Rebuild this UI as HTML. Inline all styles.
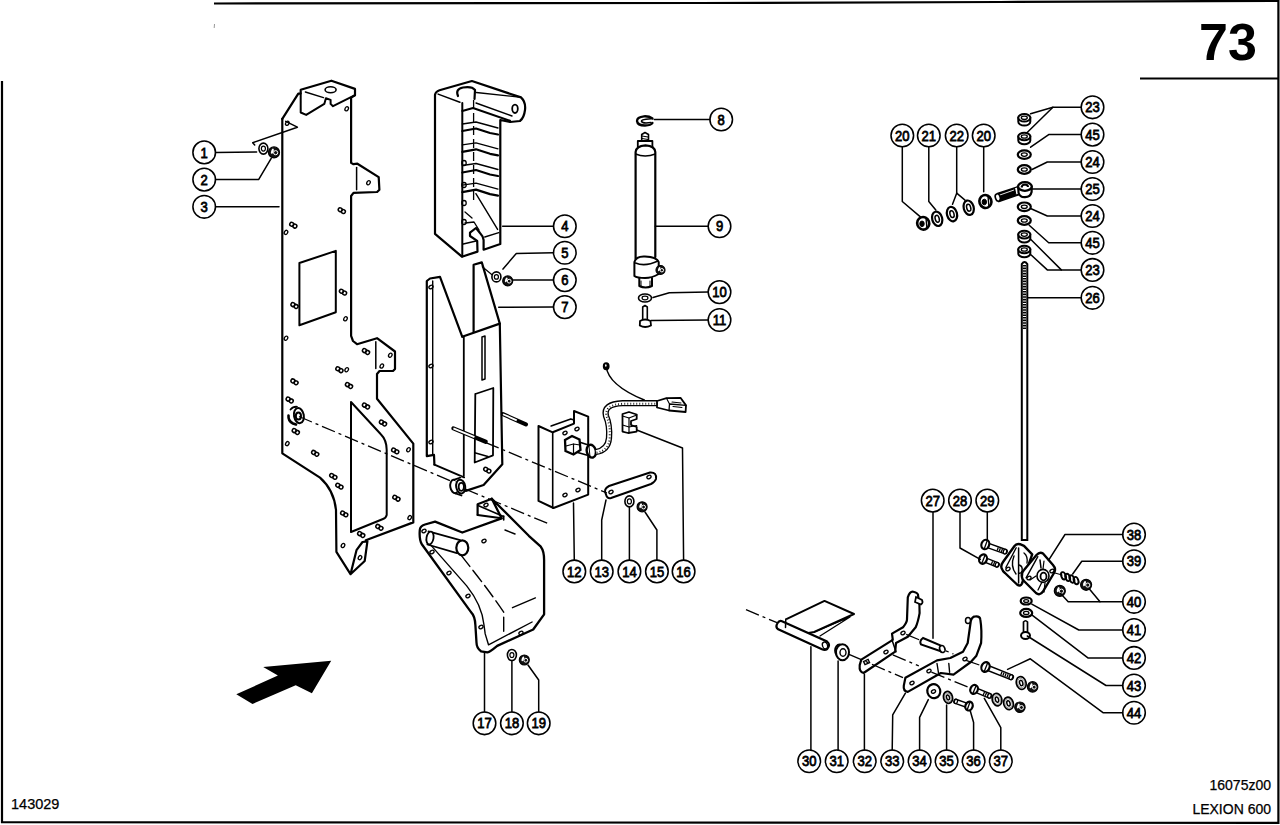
<!DOCTYPE html>
<html><head><meta charset="utf-8"><style>
html,body{margin:0;padding:0;background:#fff;}
body{width:1280px;height:825px;overflow:hidden;position:relative;}
svg{position:absolute;left:0;top:0;}
text{font-family:"Liberation Sans",sans-serif;font-size:15px;fill:#000;}
.c{font-size:14.8px;stroke:#000;stroke-width:0.8px;}
</style></head><body>
<svg width="1280" height="825" viewBox="0 0 1280 825">
<path d="M214 3.5 L700 3 L1000 2 L1278.4 0.8 L1278.4 822.9 L2 822.2 L2 81" fill="none" stroke="#000" stroke-width="2.2"/>
<line x1="214.5" y1="24" x2="214.2" y2="28" stroke="#000" stroke-width="0.8" opacity="0.5"/>
<line x1="1140" y1="78.5" x2="1278" y2="78.5" stroke="#000" stroke-width="2"/>
<text x="1228" y="60" text-anchor="middle" style="font-size:52px;font-weight:bold">73</text>
<text x="11" y="808.5" style="font-size:14.5px;stroke:#000;stroke-width:0.25px">143029</text>
<text x="1271" y="790" text-anchor="end" style="font-size:14px;stroke:#000;stroke-width:0.25px">16075z00</text>
<text x="1271" y="814" text-anchor="end" style="font-size:14px;stroke:#000;stroke-width:0.25px">LEXION 600</text>
<circle cx="204.2" cy="152.4" r="11.3" fill="#fff" stroke="#000" stroke-width="1.55"/>
<text class="c" transform="translate(204.2 157.5) scale(0.88 1)" text-anchor="middle">1</text>
<circle cx="204.2" cy="179.6" r="11.3" fill="#fff" stroke="#000" stroke-width="1.55"/>
<text class="c" transform="translate(204.2 184.7) scale(0.88 1)" text-anchor="middle">2</text>
<circle cx="204.2" cy="206.8" r="11.3" fill="#fff" stroke="#000" stroke-width="1.55"/>
<text class="c" transform="translate(204.2 211.9) scale(0.88 1)" text-anchor="middle">3</text>
<circle cx="564.8" cy="226.2" r="11.3" fill="#fff" stroke="#000" stroke-width="1.55"/>
<text class="c" transform="translate(564.8 231.29999999999998) scale(0.88 1)" text-anchor="middle">4</text>
<circle cx="564.8" cy="252.7" r="11.3" fill="#fff" stroke="#000" stroke-width="1.55"/>
<text class="c" transform="translate(564.8 257.8) scale(0.88 1)" text-anchor="middle">5</text>
<circle cx="564.8" cy="280.1" r="11.3" fill="#fff" stroke="#000" stroke-width="1.55"/>
<text class="c" transform="translate(564.8 285.20000000000005) scale(0.88 1)" text-anchor="middle">6</text>
<circle cx="564.8" cy="307.1" r="11.3" fill="#fff" stroke="#000" stroke-width="1.55"/>
<text class="c" transform="translate(564.8 312.20000000000005) scale(0.88 1)" text-anchor="middle">7</text>
<circle cx="721.2" cy="119.5" r="11.3" fill="#fff" stroke="#000" stroke-width="1.55"/>
<text class="c" transform="translate(721.2 124.6) scale(0.88 1)" text-anchor="middle">8</text>
<circle cx="719.5" cy="226.2" r="11.3" fill="#fff" stroke="#000" stroke-width="1.55"/>
<text class="c" transform="translate(719.5 231.29999999999998) scale(0.88 1)" text-anchor="middle">9</text>
<circle cx="719.5" cy="292.1" r="11.3" fill="#fff" stroke="#000" stroke-width="1.55"/>
<text class="c" transform="translate(719.5 297.20000000000005) scale(0.88 1)" text-anchor="middle">10</text>
<circle cx="719.5" cy="320" r="11.3" fill="#fff" stroke="#000" stroke-width="1.55"/>
<text class="c" transform="translate(719.5 325.1) scale(0.88 1)" text-anchor="middle">11</text>
<circle cx="574.3" cy="571.4" r="11.3" fill="#fff" stroke="#000" stroke-width="1.55"/>
<text class="c" transform="translate(574.3 576.5) scale(0.88 1)" text-anchor="middle">12</text>
<circle cx="601.7" cy="571.4" r="11.3" fill="#fff" stroke="#000" stroke-width="1.55"/>
<text class="c" transform="translate(601.7 576.5) scale(0.88 1)" text-anchor="middle">13</text>
<circle cx="629.4" cy="571.4" r="11.3" fill="#fff" stroke="#000" stroke-width="1.55"/>
<text class="c" transform="translate(629.4 576.5) scale(0.88 1)" text-anchor="middle">14</text>
<circle cx="656.9" cy="571.4" r="11.3" fill="#fff" stroke="#000" stroke-width="1.55"/>
<text class="c" transform="translate(656.9 576.5) scale(0.88 1)" text-anchor="middle">15</text>
<circle cx="683.6" cy="571.4" r="11.3" fill="#fff" stroke="#000" stroke-width="1.55"/>
<text class="c" transform="translate(683.6 576.5) scale(0.88 1)" text-anchor="middle">16</text>
<circle cx="484.5" cy="723.3" r="11.3" fill="#fff" stroke="#000" stroke-width="1.55"/>
<text class="c" transform="translate(484.5 728.4) scale(0.88 1)" text-anchor="middle">17</text>
<circle cx="511.9" cy="723.3" r="11.3" fill="#fff" stroke="#000" stroke-width="1.55"/>
<text class="c" transform="translate(511.9 728.4) scale(0.88 1)" text-anchor="middle">18</text>
<circle cx="538.7" cy="723.3" r="11.3" fill="#fff" stroke="#000" stroke-width="1.55"/>
<text class="c" transform="translate(538.7 728.4) scale(0.88 1)" text-anchor="middle">19</text>
<circle cx="902.3" cy="135.5" r="11.3" fill="#fff" stroke="#000" stroke-width="1.55"/>
<text class="c" transform="translate(902.3 140.6) scale(0.88 1)" text-anchor="middle">20</text>
<circle cx="928.8" cy="135.5" r="11.3" fill="#fff" stroke="#000" stroke-width="1.55"/>
<text class="c" transform="translate(928.8 140.6) scale(0.88 1)" text-anchor="middle">21</text>
<circle cx="956.7" cy="135.5" r="11.3" fill="#fff" stroke="#000" stroke-width="1.55"/>
<text class="c" transform="translate(956.7 140.6) scale(0.88 1)" text-anchor="middle">22</text>
<circle cx="983.7" cy="135.5" r="11.3" fill="#fff" stroke="#000" stroke-width="1.55"/>
<text class="c" transform="translate(983.7 140.6) scale(0.88 1)" text-anchor="middle">20</text>
<circle cx="1092.5" cy="107.3" r="11.3" fill="#fff" stroke="#000" stroke-width="1.55"/>
<text class="c" transform="translate(1092.5 112.39999999999999) scale(0.88 1)" text-anchor="middle">23</text>
<circle cx="1092.5" cy="134.6" r="11.3" fill="#fff" stroke="#000" stroke-width="1.55"/>
<text class="c" transform="translate(1092.5 139.7) scale(0.88 1)" text-anchor="middle">45</text>
<circle cx="1092.5" cy="162" r="11.3" fill="#fff" stroke="#000" stroke-width="1.55"/>
<text class="c" transform="translate(1092.5 167.1) scale(0.88 1)" text-anchor="middle">24</text>
<circle cx="1092.5" cy="189" r="11.3" fill="#fff" stroke="#000" stroke-width="1.55"/>
<text class="c" transform="translate(1092.5 194.1) scale(0.88 1)" text-anchor="middle">25</text>
<circle cx="1092.5" cy="216" r="11.3" fill="#fff" stroke="#000" stroke-width="1.55"/>
<text class="c" transform="translate(1092.5 221.1) scale(0.88 1)" text-anchor="middle">24</text>
<circle cx="1092.5" cy="242.8" r="11.3" fill="#fff" stroke="#000" stroke-width="1.55"/>
<text class="c" transform="translate(1092.5 247.9) scale(0.88 1)" text-anchor="middle">45</text>
<circle cx="1092.5" cy="269.9" r="11.3" fill="#fff" stroke="#000" stroke-width="1.55"/>
<text class="c" transform="translate(1092.5 275.0) scale(0.88 1)" text-anchor="middle">23</text>
<circle cx="1092.5" cy="297.8" r="11.3" fill="#fff" stroke="#000" stroke-width="1.55"/>
<text class="c" transform="translate(1092.5 302.90000000000003) scale(0.88 1)" text-anchor="middle">26</text>
<circle cx="932.7" cy="500.6" r="11.3" fill="#fff" stroke="#000" stroke-width="1.55"/>
<text class="c" transform="translate(932.7 505.70000000000005) scale(0.88 1)" text-anchor="middle">27</text>
<circle cx="960" cy="500.6" r="11.3" fill="#fff" stroke="#000" stroke-width="1.55"/>
<text class="c" transform="translate(960 505.70000000000005) scale(0.88 1)" text-anchor="middle">28</text>
<circle cx="987.3" cy="500.6" r="11.3" fill="#fff" stroke="#000" stroke-width="1.55"/>
<text class="c" transform="translate(987.3 505.70000000000005) scale(0.88 1)" text-anchor="middle">29</text>
<circle cx="1134" cy="534.5" r="11.3" fill="#fff" stroke="#000" stroke-width="1.55"/>
<text class="c" transform="translate(1134 539.6) scale(0.88 1)" text-anchor="middle">38</text>
<circle cx="1134" cy="561.2" r="11.3" fill="#fff" stroke="#000" stroke-width="1.55"/>
<text class="c" transform="translate(1134 566.3000000000001) scale(0.88 1)" text-anchor="middle">39</text>
<circle cx="1134" cy="601.8" r="11.3" fill="#fff" stroke="#000" stroke-width="1.55"/>
<text class="c" transform="translate(1134 606.9) scale(0.88 1)" text-anchor="middle">40</text>
<circle cx="1134" cy="630" r="11.3" fill="#fff" stroke="#000" stroke-width="1.55"/>
<text class="c" transform="translate(1134 635.1) scale(0.88 1)" text-anchor="middle">41</text>
<circle cx="1134" cy="657.9" r="11.3" fill="#fff" stroke="#000" stroke-width="1.55"/>
<text class="c" transform="translate(1134 663.0) scale(0.88 1)" text-anchor="middle">42</text>
<circle cx="1134" cy="685.5" r="11.3" fill="#fff" stroke="#000" stroke-width="1.55"/>
<text class="c" transform="translate(1134 690.6) scale(0.88 1)" text-anchor="middle">43</text>
<circle cx="1134" cy="712.7" r="11.3" fill="#fff" stroke="#000" stroke-width="1.55"/>
<text class="c" transform="translate(1134 717.8000000000001) scale(0.88 1)" text-anchor="middle">44</text>
<circle cx="809.2" cy="761.2" r="11.3" fill="#fff" stroke="#000" stroke-width="1.55"/>
<text class="c" transform="translate(809.2 766.3000000000001) scale(0.88 1)" text-anchor="middle">30</text>
<circle cx="836.7" cy="761.2" r="11.3" fill="#fff" stroke="#000" stroke-width="1.55"/>
<text class="c" transform="translate(836.7 766.3000000000001) scale(0.88 1)" text-anchor="middle">31</text>
<circle cx="864.7" cy="761.2" r="11.3" fill="#fff" stroke="#000" stroke-width="1.55"/>
<text class="c" transform="translate(864.7 766.3000000000001) scale(0.88 1)" text-anchor="middle">32</text>
<circle cx="892.2" cy="761.2" r="11.3" fill="#fff" stroke="#000" stroke-width="1.55"/>
<text class="c" transform="translate(892.2 766.3000000000001) scale(0.88 1)" text-anchor="middle">33</text>
<circle cx="919.6" cy="761.2" r="11.3" fill="#fff" stroke="#000" stroke-width="1.55"/>
<text class="c" transform="translate(919.6 766.3000000000001) scale(0.88 1)" text-anchor="middle">34</text>
<circle cx="946.6" cy="761.2" r="11.3" fill="#fff" stroke="#000" stroke-width="1.55"/>
<text class="c" transform="translate(946.6 766.3000000000001) scale(0.88 1)" text-anchor="middle">35</text>
<circle cx="973.6" cy="761.2" r="11.3" fill="#fff" stroke="#000" stroke-width="1.55"/>
<text class="c" transform="translate(973.6 766.3000000000001) scale(0.88 1)" text-anchor="middle">36</text>
<circle cx="1000.8" cy="761.2" r="11.3" fill="#fff" stroke="#000" stroke-width="1.55"/>
<text class="c" transform="translate(1000.8 766.3000000000001) scale(0.88 1)" text-anchor="middle">37</text>
<path d="M282.3 118.8 L298.3 93.6 L300.7 93.6 L300.7 89.7 L331.4 80.7 L355.0 88.9 L355.0 95.2 L351.1 97.6 L351.1 162.9 L353.5 164.2 L357.4 163.7 L378.7 177.1 L379.4 189.7 L377.1 192.0 L353.5 192.8 L351.1 196.0 L351.1 335.8 L353.0 341.0 L357.0 344.2 L377.0 338.2 L395.0 351.5 L395.0 369.0 L393.0 371.0 L379.5 371.0 L377.0 374.0 L377.0 398.8 L413.3 443.6 L413.3 522.4 L365.8 540.3" fill="none" stroke="#000" stroke-width="2.2" stroke-linejoin="round" stroke-linecap="round" />
<path d="M282.3 118.8 L282.3 453.3 L320 477.6 Q334 490 336 510 L336.4 551.8 L350.5 574.2 L364.7 561 L367.4 541.4 L362.5 542 L356.5 550.2 L350.5 574.2" fill="none" stroke="#000" stroke-width="2.2" stroke-linejoin="round" stroke-linecap="round" />
<path d="M355.0 95.2 L333.0 106.2 L330.6 103.9 L330.6 99.9 L325.9 98.3 L324.3 103.9 L306.2 114.9 L300.7 112.5 L300.7 93.6" fill="none" stroke="#000" stroke-width="2" stroke-linejoin="round" stroke-linecap="round" />
<path d="M305.4 92.0 L323.5 97.6" fill="none" stroke="#000" stroke-width="1.5" stroke-linejoin="round" stroke-linecap="round" />
<ellipse cx="330.6" cy="89.7" rx="5.5" ry="3" fill="none" stroke="#000" stroke-width="1.6" transform="rotate(0 330.6 89.7)"/>
<path d="M356.6 167.6 L356.6 189.7" fill="none" stroke="#000" stroke-width="1.5" stroke-linejoin="round" stroke-linecap="round" />
<path d="M375.8 341.8 L375.8 368.5" fill="none" stroke="#000" stroke-width="1.5" stroke-linejoin="round" stroke-linecap="round" />
<path d="M299.4 263.0 L335.8 250.9 L335.8 312.2 L299.4 325.3 Z" fill="none" stroke="#000" stroke-width="2" stroke-linejoin="round" stroke-linecap="round" />
<path d="M351 402 L380.6 434 Q386.7 440 386.7 450 L386.7 515 Q386 518 383 519 L351 532 Z" fill="none" stroke="#000" stroke-width="2" stroke-linejoin="round" stroke-linecap="round" />
<path d="M285.7 121.4 L297.4 127.2 L252.7 142.7 L254.7 145.0" fill="none" stroke="#000" stroke-width="1.5" stroke-linejoin="round" stroke-linecap="round" />
<path d="M290.5 409.5 Q293 406.5 297 406.8" fill="none" stroke="#000" stroke-width="1.8" stroke-linejoin="round" stroke-linecap="round" />
<path d="M288.5 415.5 Q288 421 293 423.5 L296 424.5" fill="none" stroke="#000" stroke-width="2.6" stroke-linejoin="round" stroke-linecap="round" />
<ellipse cx="298.9" cy="415.6" rx="4.9" ry="7.6" fill="#fff" stroke="#000" stroke-width="2" transform="rotate(-10 298.9 415.6)"/>
<ellipse cx="298.4" cy="416" rx="2.6" ry="3.6" fill="none" stroke="#000" stroke-width="2" transform="rotate(0 298.4 416)"/>
<ellipse cx="287.3" cy="123.3" rx="2.2" ry="1.6" fill="none" stroke="#000" stroke-width="1.3" transform="rotate(-60 287.3 123.3)"/>
<ellipse cx="346.7" cy="108.8" rx="2.2" ry="1.6" fill="none" stroke="#000" stroke-width="1.3" transform="rotate(-60 346.7 108.8)"/>
<ellipse cx="368.5" cy="182.7" rx="2.2" ry="1.6" fill="none" stroke="#000" stroke-width="1.3" transform="rotate(-60 368.5 182.7)"/>
<ellipse cx="286" cy="232.4" rx="2.2" ry="1.6" fill="none" stroke="#000" stroke-width="1.3" transform="rotate(-60 286 232.4)"/>
<ellipse cx="345.5" cy="318.8" rx="2.2" ry="1.6" fill="none" stroke="#000" stroke-width="1.3" transform="rotate(-60 345.5 318.8)"/>
<ellipse cx="286" cy="338.2" rx="2.2" ry="1.6" fill="none" stroke="#000" stroke-width="1.3" transform="rotate(-60 286 338.2)"/>
<ellipse cx="390.3" cy="355.2" rx="2.2" ry="1.6" fill="none" stroke="#000" stroke-width="1.3" transform="rotate(-60 390.3 355.2)"/>
<ellipse cx="381.8" cy="366" rx="2.2" ry="1.6" fill="none" stroke="#000" stroke-width="1.3" transform="rotate(-60 381.8 366)"/>
<ellipse cx="346.7" cy="369.7" rx="2.2" ry="1.6" fill="none" stroke="#000" stroke-width="1.3" transform="rotate(-60 346.7 369.7)"/>
<ellipse cx="287.3" cy="443.6" rx="2.2" ry="1.6" fill="none" stroke="#000" stroke-width="1.3" transform="rotate(-60 287.3 443.6)"/>
<ellipse cx="408.5" cy="449.7" rx="2.2" ry="1.6" fill="none" stroke="#000" stroke-width="1.3" transform="rotate(-60 408.5 449.7)"/>
<ellipse cx="409.7" cy="517.6" rx="2.2" ry="1.6" fill="none" stroke="#000" stroke-width="1.3" transform="rotate(-60 409.7 517.6)"/>
<ellipse cx="343" cy="545.5" rx="2.2" ry="1.6" fill="none" stroke="#000" stroke-width="1.3" transform="rotate(-60 343 545.5)"/>
<ellipse cx="360" cy="557.6" rx="2.2" ry="1.6" fill="none" stroke="#000" stroke-width="1.3" transform="rotate(-60 360 557.6)"/>
<g transform="rotate(30 341.8 210.6)"><ellipse cx="340.0" cy="210.6" rx="2" ry="1.9" fill="none" stroke="#000" stroke-width="1.5"/><ellipse cx="343.6" cy="210.6" rx="2" ry="1.9" fill="none" stroke="#000" stroke-width="1.5"/></g>
<g transform="rotate(30 293.3 225.2)"><ellipse cx="291.5" cy="225.2" rx="2" ry="1.9" fill="none" stroke="#000" stroke-width="1.5"/><ellipse cx="295.1" cy="225.2" rx="2" ry="1.9" fill="none" stroke="#000" stroke-width="1.5"/></g>
<g transform="rotate(30 294.5 305.5)"><ellipse cx="292.7" cy="305.5" rx="2" ry="1.9" fill="none" stroke="#000" stroke-width="1.5"/><ellipse cx="296.3" cy="305.5" rx="2" ry="1.9" fill="none" stroke="#000" stroke-width="1.5"/></g>
<g transform="rotate(30 343 292.1)"><ellipse cx="341.2" cy="292.1" rx="2" ry="1.9" fill="none" stroke="#000" stroke-width="1.5"/><ellipse cx="344.8" cy="292.1" rx="2" ry="1.9" fill="none" stroke="#000" stroke-width="1.5"/></g>
<g transform="rotate(30 366 351.5)"><ellipse cx="364.2" cy="351.5" rx="2" ry="1.9" fill="none" stroke="#000" stroke-width="1.5"/><ellipse cx="367.8" cy="351.5" rx="2" ry="1.9" fill="none" stroke="#000" stroke-width="1.5"/></g>
<g transform="rotate(30 339.4 369.7)"><ellipse cx="337.59999999999997" cy="369.7" rx="2" ry="1.9" fill="none" stroke="#000" stroke-width="1.5"/><ellipse cx="341.2" cy="369.7" rx="2" ry="1.9" fill="none" stroke="#000" stroke-width="1.5"/></g>
<g transform="rotate(30 294.5 381.8)"><ellipse cx="292.7" cy="381.8" rx="2" ry="1.9" fill="none" stroke="#000" stroke-width="1.5"/><ellipse cx="296.3" cy="381.8" rx="2" ry="1.9" fill="none" stroke="#000" stroke-width="1.5"/></g>
<g transform="rotate(30 349 385.5)"><ellipse cx="347.2" cy="385.5" rx="2" ry="1.9" fill="none" stroke="#000" stroke-width="1.5"/><ellipse cx="350.8" cy="385.5" rx="2" ry="1.9" fill="none" stroke="#000" stroke-width="1.5"/></g>
<g transform="rotate(30 289.7 400)"><ellipse cx="287.9" cy="400" rx="2" ry="1.9" fill="none" stroke="#000" stroke-width="1.5"/><ellipse cx="291.5" cy="400" rx="2" ry="1.9" fill="none" stroke="#000" stroke-width="1.5"/></g>
<g transform="rotate(30 366 406)"><ellipse cx="364.2" cy="406" rx="2" ry="1.9" fill="none" stroke="#000" stroke-width="1.5"/><ellipse cx="367.8" cy="406" rx="2" ry="1.9" fill="none" stroke="#000" stroke-width="1.5"/></g>
<g transform="rotate(30 383 423)"><ellipse cx="381.2" cy="423" rx="2" ry="1.9" fill="none" stroke="#000" stroke-width="1.5"/><ellipse cx="384.8" cy="423" rx="2" ry="1.9" fill="none" stroke="#000" stroke-width="1.5"/></g>
<g transform="rotate(30 295.8 431.5)"><ellipse cx="294.0" cy="431.5" rx="2" ry="1.9" fill="none" stroke="#000" stroke-width="1.5"/><ellipse cx="297.6" cy="431.5" rx="2" ry="1.9" fill="none" stroke="#000" stroke-width="1.5"/></g>
<g transform="rotate(30 315.2 453.3)"><ellipse cx="313.4" cy="453.3" rx="2" ry="1.9" fill="none" stroke="#000" stroke-width="1.5"/><ellipse cx="317.0" cy="453.3" rx="2" ry="1.9" fill="none" stroke="#000" stroke-width="1.5"/></g>
<g transform="rotate(30 395.2 450.9)"><ellipse cx="393.4" cy="450.9" rx="2" ry="1.9" fill="none" stroke="#000" stroke-width="1.5"/><ellipse cx="397.0" cy="450.9" rx="2" ry="1.9" fill="none" stroke="#000" stroke-width="1.5"/></g>
<g transform="rotate(30 333.3 476.4)"><ellipse cx="331.5" cy="476.4" rx="2" ry="1.9" fill="none" stroke="#000" stroke-width="1.5"/><ellipse cx="335.1" cy="476.4" rx="2" ry="1.9" fill="none" stroke="#000" stroke-width="1.5"/></g>
<g transform="rotate(30 339.4 486.1)"><ellipse cx="337.59999999999997" cy="486.1" rx="2" ry="1.9" fill="none" stroke="#000" stroke-width="1.5"/><ellipse cx="341.2" cy="486.1" rx="2" ry="1.9" fill="none" stroke="#000" stroke-width="1.5"/></g>
<g transform="rotate(30 396.4 498.2)"><ellipse cx="394.59999999999997" cy="498.2" rx="2" ry="1.9" fill="none" stroke="#000" stroke-width="1.5"/><ellipse cx="398.2" cy="498.2" rx="2" ry="1.9" fill="none" stroke="#000" stroke-width="1.5"/></g>
<g transform="rotate(30 344.2 513.9)"><ellipse cx="342.4" cy="513.9" rx="2" ry="1.9" fill="none" stroke="#000" stroke-width="1.5"/><ellipse cx="346.0" cy="513.9" rx="2" ry="1.9" fill="none" stroke="#000" stroke-width="1.5"/></g>
<g transform="rotate(30 379.4 527.3)"><ellipse cx="377.59999999999997" cy="527.3" rx="2" ry="1.9" fill="none" stroke="#000" stroke-width="1.5"/><ellipse cx="381.2" cy="527.3" rx="2" ry="1.9" fill="none" stroke="#000" stroke-width="1.5"/></g>
<g transform="rotate(30 361.2 534.5)"><ellipse cx="359.4" cy="534.5" rx="2" ry="1.9" fill="none" stroke="#000" stroke-width="1.5"/><ellipse cx="363.0" cy="534.5" rx="2" ry="1.9" fill="none" stroke="#000" stroke-width="1.5"/></g>
<path d="M435 233.8 L435 95 Q435.5 91.5 439.5 90.2 L471.9 81 L521 97.4 Q526 102 525 110 Q524 118 519.9 121 L510.1 122 L500.3 120 L500.3 244 L483.6 249.7 L483.6 240 Q483 236 480 233 L476 228 L470 232.6 L470 236 L477.2 240.8 L477.5 251.6 L461.9 256.7 L435 233.8" fill="none" stroke="#000" stroke-width="2.2" stroke-linejoin="round" stroke-linecap="round" />
<path d="M462.3 103.0 L462.3 256.5" fill="none" stroke="#000" stroke-width="2" stroke-linejoin="round" stroke-linecap="round" />
<path d="M438.1 94.1 L459.9 102.3" fill="none" stroke="#000" stroke-width="1.5" stroke-linejoin="round" stroke-linecap="round" />
<path d="M458 96 Q455 89 463 87.5 Q472 86 475 90 L474.5 99" fill="none" stroke="#000" stroke-width="2.2" stroke-linejoin="round" stroke-linecap="round" />
<path d="M476.3 92.5 L519.0 97.0" fill="none" stroke="#000" stroke-width="1.3" stroke-linejoin="round" stroke-linecap="round" />
<path d="M476.0 103.0 L512.0 116.0" fill="none" stroke="#000" stroke-width="1.4" stroke-linejoin="round" stroke-linecap="round" />
<path d="M462.3 111.0 L473.0 108.0 L510.0 120.8" fill="none" stroke="#000" stroke-width="2" stroke-linejoin="round" stroke-linecap="round" />
<ellipse cx="515" cy="108.8" rx="2.8" ry="4.2" fill="none" stroke="#000" stroke-width="1.8" transform="rotate(0 515 108.8)"/>
<line x1="473.6" y1="100" x2="473.6" y2="200" stroke="#000" stroke-width="1.3" stroke-dasharray="9 4"/>
<path d="M462.3 124.0 L476.0 122.0 L498.0 128.0" fill="none" stroke="#000" stroke-width="1.3" stroke-linejoin="round" stroke-linecap="round" />
<path d="M462.3 131.0 L476.0 128.5 L490.0 133.0 L498.0 134.5" fill="none" stroke="#000" stroke-width="2.2" stroke-linejoin="round" stroke-linecap="round" />
<path d="M462.3 144.8 L476.0 142.8 L498.0 148.8" fill="none" stroke="#000" stroke-width="1.3" stroke-linejoin="round" stroke-linecap="round" />
<path d="M462.3 151.8 L476.0 149.3 L490.0 153.8 L498.0 155.3" fill="none" stroke="#000" stroke-width="2.2" stroke-linejoin="round" stroke-linecap="round" />
<path d="M462.3 165.5 L476.0 163.5 L498.0 169.5" fill="none" stroke="#000" stroke-width="1.3" stroke-linejoin="round" stroke-linecap="round" />
<path d="M462.3 172.5 L476.0 170.0 L490.0 174.5 L498.0 176.0" fill="none" stroke="#000" stroke-width="2.2" stroke-linejoin="round" stroke-linecap="round" />
<path d="M462.3 185.1 L476.0 183.1 L498.0 189.1" fill="none" stroke="#000" stroke-width="1.3" stroke-linejoin="round" stroke-linecap="round" />
<path d="M462.3 192.1 L476.0 189.6 L490.0 194.1 L498.0 195.6" fill="none" stroke="#000" stroke-width="2.2" stroke-linejoin="round" stroke-linecap="round" />
<path d="M475.9 193.7 L497.6 229.4" fill="none" stroke="#000" stroke-width="1.4" stroke-linejoin="round" stroke-linecap="round" />
<path d="M463.2 244.0 L477.2 240.8" fill="none" stroke="#000" stroke-width="1.4" stroke-linejoin="round" stroke-linecap="round" />
<path d="M484.8 237.0 L498.8 232.6" fill="none" stroke="#000" stroke-width="1.4" stroke-linejoin="round" stroke-linecap="round" />
<path d="M465.0 212.0 L472.0 218.0" fill="none" stroke="#000" stroke-width="1.3" stroke-linejoin="round" stroke-linecap="round" />
<path d="M465.0 223.0 L474.0 222.0 L479.0 230.0" fill="none" stroke="#000" stroke-width="1.4" stroke-linejoin="round" stroke-linecap="round" />
<ellipse cx="464" cy="163" rx="2.2" ry="2.5" fill="none" stroke="#000" stroke-width="1.3" transform="rotate(0 464 163)"/>
<ellipse cx="464" cy="185" rx="2.2" ry="2.5" fill="none" stroke="#000" stroke-width="1.3" transform="rotate(0 464 185)"/>
<ellipse cx="464" cy="203" rx="2.2" ry="2.5" fill="none" stroke="#000" stroke-width="1.3" transform="rotate(0 464 203)"/>
<ellipse cx="464" cy="222" rx="2.2" ry="2.5" fill="none" stroke="#000" stroke-width="1.3" transform="rotate(0 464 222)"/>
<path d="M434.4 464.6 L434.0 454.8 L426.8 456.1 L426.8 281.0 L430.0 278.5 L440.0 276.8 L462.2 336.7" fill="none" stroke="#000" stroke-width="2.2" stroke-linejoin="round" stroke-linecap="round" />
<path d="M432.7 281.0 L432.7 455.0" fill="none" stroke="#000" stroke-width="1.4" stroke-linejoin="round" stroke-linecap="round" />
<path d="M434.4 464.6 L464.1 477.3" fill="none" stroke="#000" stroke-width="2" stroke-linejoin="round" stroke-linecap="round" />
<path d="M462.2 336.7 L499.8 323.6" fill="none" stroke="#000" stroke-width="2.2" stroke-linejoin="round" stroke-linecap="round" />
<path d="M463.8 336.7 L463.8 475.8" fill="none" stroke="#000" stroke-width="1.8" stroke-linejoin="round" stroke-linecap="round" />
<path d="M473.6 331.8 L473.6 264.7 L481.8 262.4 L499.8 323.6 L502.3 464.2 L483.6 485.0 L465.8 490.9" fill="none" stroke="#000" stroke-width="2.2" stroke-linejoin="round" stroke-linecap="round" />
<path d="M482.0 337.0 L485.0 336.0 L485.0 379.0 L482.0 380.0 L482.0 337.0" fill="none" stroke="#000" stroke-width="1.5" stroke-linejoin="round" stroke-linecap="round" />
<path d="M475.3 394.0 L493.3 388.0 L493.0 455.3 L474.7 462.5 L475.3 394.0" fill="none" stroke="#000" stroke-width="1.8" stroke-linejoin="round" stroke-linecap="round" />
<path d="M474.7 452.7 L487.9 456.5" fill="none" stroke="#000" stroke-width="1.5" stroke-linejoin="round" stroke-linecap="round" />
<line x1="453.4" y1="428.4" x2="485.7" y2="441.8" stroke="#000" stroke-width="4.2" stroke-linecap="round"/>
<line x1="453.4" y1="428.4" x2="474.395" y2="437.11" stroke="#fff" stroke-width="1.8000000000000003"/>
<line x1="503" y1="414.2" x2="525.9" y2="424.4" stroke="#000" stroke-width="4.2" stroke-linecap="round"/>
<line x1="503" y1="414.2" x2="516.74" y2="420.32" stroke="#fff" stroke-width="1.8000000000000003"/>
<path d="M455 478.5 L461 476.5 L465 496 L458.5 497.5 Z" fill="#fff" stroke="none"/>
<ellipse cx="454.5" cy="486.5" rx="4.2" ry="6.8" fill="#fff" stroke="#000" stroke-width="1.9" transform="rotate(-10 454.5 486.5)"/>
<path d="M455 478.5 L461 476.5 L465 496 L458.5 497.5 Z" fill="#fff" stroke="none"/>
<path d="M454.5 479.7 L460.5 477.5" fill="none" stroke="#000" stroke-width="1.8" stroke-linejoin="round" stroke-linecap="round" />
<path d="M455.5 493.3 L461.5 495.5" fill="none" stroke="#000" stroke-width="1.8" stroke-linejoin="round" stroke-linecap="round" />
<ellipse cx="460.7" cy="486.6" rx="4.5" ry="7" fill="#fff" stroke="#000" stroke-width="2" transform="rotate(-10 460.7 486.6)"/>
<ellipse cx="461.3" cy="486.8" rx="2.6" ry="4" fill="none" stroke="#000" stroke-width="1.8" transform="rotate(0 461.3 486.8)"/>
<ellipse cx="431" cy="287" rx="2.2" ry="1.6" fill="none" stroke="#000" stroke-width="1.3" transform="rotate(-30 431 287)"/>
<ellipse cx="431" cy="366" rx="2.2" ry="1.6" fill="none" stroke="#000" stroke-width="1.3" transform="rotate(-30 431 366)"/>
<ellipse cx="431" cy="442" rx="2.2" ry="1.6" fill="none" stroke="#000" stroke-width="1.3" transform="rotate(-30 431 442)"/>
<g transform="rotate(30 487.3 470.1)"><ellipse cx="485.5" cy="470.1" rx="2" ry="1.9" fill="none" stroke="#000" stroke-width="1.5"/><ellipse cx="489.1" cy="470.1" rx="2" ry="1.9" fill="none" stroke="#000" stroke-width="1.5"/></g>
<path d="M215.5 152.4 L256.6 151.9" fill="none" stroke="#000" stroke-width="1.5" stroke-linejoin="round" stroke-linecap="round" />
<path d="M215.5 179.6 L258.6 179.6 L271.2 158.3" fill="none" stroke="#000" stroke-width="1.5" stroke-linejoin="round" stroke-linecap="round" />
<path d="M215.5 206.8 L279.0 206.8" fill="none" stroke="#000" stroke-width="1.5" stroke-linejoin="round" stroke-linecap="round" />
<ellipse cx="263.4" cy="148.6" rx="4.5" ry="5.5" fill="#fff" stroke="#000" stroke-width="1.6" transform="rotate(0 263.4 148.6)"/>
<ellipse cx="263.4" cy="148.6" rx="2.025" ry="2.475" fill="none" stroke="#000" stroke-width="1.2" transform="rotate(0 263.4 148.6)"/>
<circle cx="274" cy="152.4" r="5.5" fill="#111" stroke="#000" stroke-width="1.2"/>
<ellipse cx="272.075" cy="151.85" rx="1.21" ry="2.75" fill="#fff" transform="rotate(20 274 152.4)"/>
<circle cx="275.65" cy="152.675" r="2.09" fill="none" stroke="#fff" stroke-width="1"/>
<path d="M502.6 226.2 L553.5 226.2" fill="none" stroke="#000" stroke-width="1.5" stroke-linejoin="round" stroke-linecap="round" />
<path d="M503.0 269.1 L516.3 253.4 L553.5 252.7" fill="none" stroke="#000" stroke-width="1.5" stroke-linejoin="round" stroke-linecap="round" />
<path d="M511.6 280.1 L553.5 280.1" fill="none" stroke="#000" stroke-width="1.5" stroke-linejoin="round" stroke-linecap="round" />
<path d="M498.7 307.3 L553.5 307.1" fill="none" stroke="#000" stroke-width="1.5" stroke-linejoin="round" stroke-linecap="round" />
<path d="M482.3 266.8 L491.7 274.5" fill="none" stroke="#000" stroke-width="1.2" stroke-linejoin="round" stroke-linecap="round" />
<ellipse cx="496.4" cy="276.9" rx="4.5" ry="5" fill="#fff" stroke="#000" stroke-width="1.6" transform="rotate(0 496.4 276.9)"/>
<ellipse cx="496.4" cy="276.9" rx="2.025" ry="2.25" fill="none" stroke="#000" stroke-width="1.2" transform="rotate(0 496.4 276.9)"/>
<circle cx="507.7" cy="280.9" r="5" fill="#111" stroke="#000" stroke-width="1.2"/>
<ellipse cx="505.95" cy="280.4" rx="1.1" ry="2.5" fill="#fff" transform="rotate(20 507.7 280.9)"/>
<circle cx="509.2" cy="281.15" r="1.9" fill="none" stroke="#fff" stroke-width="1"/>
<path d="M652.5 118.5 Q649 116 644 116.3 Q637 117 637 121 Q637.5 125.5 645 125.5 Q651 125.5 652.5 123" fill="none" stroke="#000" stroke-width="2.3" stroke-linejoin="round" stroke-linecap="round" />
<path d="M651 118.8 L646 119.3 Q641.5 119.8 641.5 121.3 Q642 123 646 123 L651 122.5" fill="none" stroke="#000" stroke-width="1.6" stroke-linejoin="round" stroke-linecap="round" />
<path d="M654.3 119.5 L709.9 119.5" fill="none" stroke="#000" stroke-width="1.5" stroke-linejoin="round" stroke-linecap="round" />
<path d="M641.7 140.4 L641.7 134.5 L645.0 132.5 L648.5 134.5 L648.5 140.4" fill="#fff" stroke="#000" stroke-width="1.6" stroke-linejoin="round" stroke-linecap="round" />
<path d="M642.0 136.0 L648.0 137.0" fill="none" stroke="#000" stroke-width="1.2" stroke-linejoin="round" stroke-linecap="round" />
<path d="M642.0 138.5 L648.0 139.5" fill="none" stroke="#000" stroke-width="1.2" stroke-linejoin="round" stroke-linecap="round" />
<path d="M637.8 147.0 L637.8 141.0 L652.4 141.0 L652.4 147.0" fill="none" stroke="#000" stroke-width="1.8" stroke-linejoin="round" stroke-linecap="round" />
<path d="M635.6 258.7 L635.6 152 Q636 146 645.5 145.3 Q655 146 655.3 152 L655.3 257" fill="none" stroke="#000" stroke-width="2.2" stroke-linejoin="round" stroke-linecap="round" />
<path d="M635.6 154 Q645 158 655.3 154" fill="none" stroke="#000" stroke-width="1.5" stroke-linejoin="round" stroke-linecap="round" />
<path d="M634.4 276 L634.4 262 Q636 256 645 256.5 Q657 257 658.7 262 L658.7 274 Q652 278 645 278 Q637 278 634.4 276" fill="#fff" stroke="#000" stroke-width="2" stroke-linejoin="round" stroke-linecap="round" />
<path d="M635.5 263 Q645 267 658 261" fill="none" stroke="#000" stroke-width="1.6" stroke-linejoin="round" stroke-linecap="round" />
<path d="M639.3 278 L639.3 286 Q645.5 289 652 286 L652 278" fill="none" stroke="#000" stroke-width="2" stroke-linejoin="round" stroke-linecap="round" />
<path d="M641.0 281.0 L641.0 287.0" fill="none" stroke="#000" stroke-width="1" stroke-linejoin="round" stroke-linecap="round" />
<path d="M650.0 281.0 L650.0 287.0" fill="none" stroke="#000" stroke-width="1" stroke-linejoin="round" stroke-linecap="round" />
<circle cx="660.5" cy="270" r="4.5" fill="#111" stroke="#000" stroke-width="1.2"/>
<ellipse cx="658.925" cy="269.55" rx="0.99" ry="2.25" fill="#fff" transform="rotate(20 660.5 270)"/>
<circle cx="661.85" cy="270.225" r="1.71" fill="none" stroke="#fff" stroke-width="1"/>
<path d="M655.3 226.2 L708.2 226.2" fill="none" stroke="#000" stroke-width="1.5" stroke-linejoin="round" stroke-linecap="round" />
<ellipse cx="645" cy="298" rx="6.5" ry="4" fill="#fff" stroke="#000" stroke-width="1.6" transform="rotate(0 645 298)"/>
<ellipse cx="645" cy="298" rx="2.9250000000000003" ry="1.8" fill="none" stroke="#000" stroke-width="1.2" transform="rotate(0 645 298)"/>
<path d="M653.0 297.5 L669.3 292.7 L708.2 292.1" fill="none" stroke="#000" stroke-width="1.5" stroke-linejoin="round" stroke-linecap="round" />
<path d="M642.7 320.0 L642.7 307.0 L645.0 305.5 L647.3 307.0 L647.3 320.0" fill="none" stroke="#000" stroke-width="1.6" stroke-linejoin="round" stroke-linecap="round" />
<path d="M640 321 Q645 318 650.5 321 L651 325.5 Q645 328.5 639.8 325.5 Z" fill="#fff" stroke="#000" stroke-width="1.8" stroke-linejoin="round" stroke-linecap="round" />
<path d="M651.0 320.6 L708.2 320.0" fill="none" stroke="#000" stroke-width="1.5" stroke-linejoin="round" stroke-linecap="round" />
<path d="M552.7 432.3 L538.5 426.0 L538.5 500.9 L553.5 508.0 L588.2 494.6 L588.2 416.6 L574.0 411.0 L574.0 423.6 L552.7 432.3" fill="none" stroke="#000" stroke-width="2" stroke-linejoin="round" stroke-linecap="round" />
<path d="M552.7 433.1 L552.7 508.0" fill="none" stroke="#000" stroke-width="1.6" stroke-linejoin="round" stroke-linecap="round" />
<path d="M551.1 426.0 L570.8 418.9 L574.0 420.0" fill="none" stroke="#000" stroke-width="1.6" stroke-linejoin="round" stroke-linecap="round" />
<ellipse cx="565" cy="433" rx="2.2" ry="1.6" fill="none" stroke="#000" stroke-width="1.3" transform="rotate(-30 565 433)"/>
<ellipse cx="577" cy="429" rx="2.2" ry="1.6" fill="none" stroke="#000" stroke-width="1.3" transform="rotate(-30 577 429)"/>
<ellipse cx="565" cy="495" rx="2.2" ry="1.6" fill="none" stroke="#000" stroke-width="1.3" transform="rotate(-30 565 495)"/>
<ellipse cx="578" cy="490" rx="2.2" ry="1.6" fill="none" stroke="#000" stroke-width="1.3" transform="rotate(-30 578 490)"/>
<path d="M576.0 441.0 L590.0 445.5" fill="none" stroke="#000" stroke-width="1.8" stroke-linejoin="round" stroke-linecap="round" />
<path d="M576.0 452.0 L590.0 456.0" fill="none" stroke="#000" stroke-width="1.8" stroke-linejoin="round" stroke-linecap="round" />
<polygon points="565,440 572,436 579.5,439.5 580.5,450 573.5,454.5 565.5,451" fill="#fff" stroke="#000" stroke-width="2.3"/>
<path d="M566.0 446.0 L573.5 444.0 L580.0 445.0" fill="none" stroke="#000" stroke-width="1.2" stroke-linejoin="round" stroke-linecap="round" />
<path d="M573.5 444.0 L573.5 454.0" fill="none" stroke="#000" stroke-width="1.2" stroke-linejoin="round" stroke-linecap="round" />
<ellipse cx="591.3" cy="451.2" rx="4.5" ry="6.5" fill="#fff" stroke="#000" stroke-width="2.4" transform="rotate(-15 591.3 451.2)"/>
<path d="M589.0 446.0 L590.0 457.0" fill="none" stroke="#000" stroke-width="1" stroke-linejoin="round" stroke-linecap="round" />
<path d="M596 452 Q608 450 609 438 Q610 425 606 416 Q603 404 622.5 403.2 L657.4 403.2" fill="none" stroke="#000" stroke-width="6.3"/>
<path d="M596 452 Q608 450 609 438 Q610 425 606 416 Q603 404 622.5 403.2 L657.4 403.2" fill="none" stroke="#fff" stroke-width="3.6"/>
<path d="M596 452 Q608 450 609 438 Q610 425 606 416 Q603 404 622.5 403.2 L657.4 403.2" fill="none" stroke="#000" stroke-width="2" stroke-dasharray="0.8 2.2" transform="translate(0.6 0.6)"/>
<path d="M657.0 401.0 L666.5 398.2 L680.5 397.8 L686.0 405.4 L685.6 412.0 L669.0 410.5 L657.0 407.5 Z" fill="none" stroke="#000" stroke-width="1.8" stroke-linejoin="round" stroke-linecap="round" />
<path d="M669.0 410.5 L669.5 404.0 L686.0 405.4" fill="none" stroke="#000" stroke-width="1.3" stroke-linejoin="round" stroke-linecap="round" />
<path d="M669.5 404.0 L666.5 398.2" fill="none" stroke="#000" stroke-width="1.1" stroke-linejoin="round" stroke-linecap="round" />
<path d="M672.0 402.0 L681.0 403.0" fill="none" stroke="#000" stroke-width="1.1" stroke-linejoin="round" stroke-linecap="round" />
<path d="M673.0 406.5 L682.0 407.5" fill="none" stroke="#000" stroke-width="1.1" stroke-linejoin="round" stroke-linecap="round" />
<path d="M606.2 366.2 Q608 385 644.3 400" fill="none" stroke="#000" stroke-width="1.5" stroke-linejoin="round" stroke-linecap="round" />
<ellipse cx="606.2" cy="366.2" rx="2.6" ry="3.2" fill="#000" stroke="#000" stroke-width="1.6" transform="rotate(0 606.2 366.2)"/>
<ellipse cx="605.8" cy="365.5" rx="0.8" ry="1.2" fill="#fff" stroke="#000" stroke-width="0" transform="rotate(0 605.8 365.5)"/>
<path d="M622.5 431.6 L622.5 414.0 L629.0 412.0 L636.7 414.5 L636.7 419.0 L631.0 421.0 L631.0 425.0 L636.7 427.0 L636.7 431.6 L628.0 433.0 Z" fill="none" stroke="#000" stroke-width="1.8" stroke-linejoin="round" stroke-linecap="round" />
<path d="M622.5 416.0 L629.0 418.0 L636.7 415.0" fill="none" stroke="#000" stroke-width="1.3" stroke-linejoin="round" stroke-linecap="round" />
<path d="M629.0 418.0 L629.0 433.0" fill="none" stroke="#000" stroke-width="1.2" stroke-linejoin="round" stroke-linecap="round" />
<path d="M622.5 425.0 L629.0 427.0 L636.7 425.5" fill="none" stroke="#000" stroke-width="1.2" stroke-linejoin="round" stroke-linecap="round" />
<path d="M636.7 430.0 L682.5 448.0 L683.6 560.0" fill="none" stroke="#000" stroke-width="1.5" stroke-linejoin="round" stroke-linecap="round" />
<path d="M606 494.5 Q603 489 609 486 L650 472.5 Q657 472 656 479 Q655 482 651 484 L611 498 Q607 499 606 494.5 Z" fill="none" stroke="#000" stroke-width="2" stroke-linejoin="round" stroke-linecap="round" />
<ellipse cx="611" cy="492" rx="2.2" ry="1.6" fill="none" stroke="#000" stroke-width="1.3" transform="rotate(-30 611 492)"/>
<ellipse cx="649" cy="477" rx="2.2" ry="1.6" fill="none" stroke="#000" stroke-width="1.3" transform="rotate(-30 649 477)"/>
<ellipse cx="629.4" cy="501.4" rx="4.5" ry="5.5" fill="#fff" stroke="#000" stroke-width="1.6" transform="rotate(0 629.4 501.4)"/>
<ellipse cx="629.4" cy="501.4" rx="2.025" ry="2.475" fill="none" stroke="#000" stroke-width="1.2" transform="rotate(0 629.4 501.4)"/>
<circle cx="642.1" cy="506.8" r="5" fill="#111" stroke="#000" stroke-width="1.2"/>
<ellipse cx="640.35" cy="506.3" rx="1.1" ry="2.5" fill="#fff" transform="rotate(20 642.1 506.8)"/>
<circle cx="643.6" cy="507.05" r="1.9" fill="none" stroke="#fff" stroke-width="1"/>
<path d="M573.5 503.0 L574.3 560.0" fill="none" stroke="#000" stroke-width="1.5" stroke-linejoin="round" stroke-linecap="round" />
<path d="M606.0 500.0 L601.7 520.0 L601.7 560.0" fill="none" stroke="#000" stroke-width="1.5" stroke-linejoin="round" stroke-linecap="round" />
<path d="M629.4 507.0 L629.4 560.0" fill="none" stroke="#000" stroke-width="1.5" stroke-linejoin="round" stroke-linecap="round" />
<path d="M645.0 512.0 L656.9 530.0 L656.9 560.0" fill="none" stroke="#000" stroke-width="1.5" stroke-linejoin="round" stroke-linecap="round" />
<path d="M422 544.5 Q419 540 419.8 530 Q420 526 425 524.5 L435.1 521.6 L462.3 532.5 L501.6 518.3 L491.8 498.7 L528.8 535.8 L540.8 546.7 Q544.1 551 544.1 560 L544.1 614.3 L533.2 629.5 L497.2 645.9 Q490 652 487.4 652.4 L481 651.3 Q476.5 648 476.5 642.6 L475.4 625.2 Q475 616 471 612.1 Z" fill="none" stroke="#000" stroke-width="2.3" stroke-linejoin="round" stroke-linecap="round" />
<path d="M477.6 515.0 L477.6 504.2 L491.8 498.7" fill="none" stroke="#000" stroke-width="2.2" stroke-linejoin="round" stroke-linecap="round" />
<path d="M477.6 515.0 L501.6 518.3" fill="none" stroke="#000" stroke-width="2" stroke-linejoin="round" stroke-linecap="round" />
<path d="M478.0 505.5 L503.5 516.5" fill="none" stroke="#000" stroke-width="1.6" stroke-linejoin="round" stroke-linecap="round" />
<path d="M503.7 516.0 L503.7 520.0" fill="none" stroke="#000" stroke-width="1.6" stroke-linejoin="round" stroke-linecap="round" />
<path d="M426.4 540.1 L466.7 585.9 Q482 605 484 625 L485.2 633.9 L488.5 644.8 L532.1 622" fill="none" stroke="#000" stroke-width="1.4" stroke-linejoin="round" stroke-linecap="round" />
<path d="M428.5 531.4 L460.1 540.1" fill="none" stroke="#000" stroke-width="1.8" stroke-linejoin="round" stroke-linecap="round" />
<path d="M427.4 544.5 L456.9 553.2" fill="none" stroke="#000" stroke-width="1.8" stroke-linejoin="round" stroke-linecap="round" />
<ellipse cx="430" cy="538" rx="3.5" ry="6.5" fill="#fff" stroke="#000" stroke-width="1.8" transform="rotate(10 430 538)"/>
<ellipse cx="462.3" cy="547.8" rx="6" ry="7.5" fill="#fff" stroke="#000" stroke-width="2.2" transform="rotate(0 462.3 547.8)"/>
<path d="M461.2 555.4 L473.2 570.7 Q490 592 503.7 612.1 L503.7 631.7" fill="none" stroke="#000" stroke-width="1.4" stroke-linejoin="round" stroke-linecap="round" stroke-dasharray="14 5"/>
<path d="M512.5 607.7 L535.4 597.9" fill="none" stroke="#000" stroke-width="1.4" stroke-linejoin="round" stroke-linecap="round" />
<path d="M505.0 530.0 L515.0 534.0" fill="none" stroke="#000" stroke-width="1.5" stroke-linejoin="round" stroke-linecap="round" />
<ellipse cx="424" cy="531" rx="2.2" ry="1.6" fill="none" stroke="#000" stroke-width="1.3" transform="rotate(-30 424 531)"/>
<ellipse cx="432" cy="552" rx="2.2" ry="1.6" fill="none" stroke="#000" stroke-width="1.3" transform="rotate(-30 432 552)"/>
<ellipse cx="449" cy="573" rx="2.2" ry="1.6" fill="none" stroke="#000" stroke-width="1.3" transform="rotate(-30 449 573)"/>
<ellipse cx="468" cy="596" rx="2.2" ry="1.6" fill="none" stroke="#000" stroke-width="1.3" transform="rotate(-30 468 596)"/>
<ellipse cx="481" cy="627" rx="2.2" ry="1.6" fill="none" stroke="#000" stroke-width="1.3" transform="rotate(-30 481 627)"/>
<ellipse cx="484" cy="541" rx="2.2" ry="1.6" fill="none" stroke="#000" stroke-width="1.3" transform="rotate(-30 484 541)"/>
<ellipse cx="486" cy="505" rx="2.2" ry="1.6" fill="none" stroke="#000" stroke-width="1.3" transform="rotate(-30 486 505)"/>
<ellipse cx="521" cy="633" rx="2.2" ry="1.6" fill="none" stroke="#000" stroke-width="1.3" transform="rotate(-30 521 633)"/>
<path d="M484.5 653.0 L484.5 711.8" fill="none" stroke="#000" stroke-width="1.5" stroke-linejoin="round" stroke-linecap="round" />
<ellipse cx="511.9" cy="655" rx="4.5" ry="5.5" fill="#fff" stroke="#000" stroke-width="1.6" transform="rotate(0 511.9 655)"/>
<ellipse cx="511.9" cy="655" rx="2.025" ry="2.475" fill="none" stroke="#000" stroke-width="1.2" transform="rotate(0 511.9 655)"/>
<circle cx="524.3" cy="660" r="5" fill="#111" stroke="#000" stroke-width="1.2"/>
<ellipse cx="522.55" cy="659.5" rx="1.1" ry="2.5" fill="#fff" transform="rotate(20 524.3 660)"/>
<circle cx="525.8" cy="660.25" r="1.9" fill="none" stroke="#fff" stroke-width="1"/>
<path d="M511.9 661.0 L511.9 711.8" fill="none" stroke="#000" stroke-width="1.5" stroke-linejoin="round" stroke-linecap="round" />
<path d="M528.0 665.0 L538.7 680.0 L538.7 711.8" fill="none" stroke="#000" stroke-width="1.5" stroke-linejoin="round" stroke-linecap="round" />
<line x1="299" y1="416.5" x2="453" y2="482" stroke="#000" stroke-width="1.3" stroke-dasharray="14 4 3 4"/>
<line x1="485.7" y1="442.6" x2="607" y2="493" stroke="#000" stroke-width="1.3" stroke-dasharray="14 4 3 4"/>
<line x1="465" y1="489" x2="550.3" y2="524.5" stroke="#000" stroke-width="1.3" stroke-dasharray="14 4 3 4"/>
<polygon points="236.3,694.3 252.5,704 295.7,685.2 311.9,693.3 331.2,660.8 263.2,666.9 277.9,675.5" fill="#000"/>
<path d="M1018.3 117.8 L1018.3 121.8 A6 3.8 0 0 0 1030.3 121.8 L1030.3 117.8 Z" fill="#fff" stroke="#000" stroke-width="2"/>
<ellipse cx="1024.3" cy="117.8" rx="6" ry="3.8" fill="#fff" stroke="#000" stroke-width="2"/>
<ellipse cx="1024.3" cy="117.8" rx="3.0" ry="1.71" fill="none" stroke="#000" stroke-width="1.3"/>
<path d="M1018.3 136.5 L1018.3 140.5 A6 3.8 0 0 0 1030.3 140.5 L1030.3 136.5 Z" fill="#fff" stroke="#000" stroke-width="2"/>
<ellipse cx="1024.3" cy="136.5" rx="6" ry="3.8" fill="#fff" stroke="#000" stroke-width="2"/>
<ellipse cx="1024.3" cy="136.5" rx="3.0" ry="1.71" fill="none" stroke="#000" stroke-width="1.3"/>
<ellipse cx="1024.3" cy="154.6" rx="6.5" ry="4.3" fill="#fff" stroke="#000" stroke-width="2.2"/>
<ellipse cx="1024.3" cy="154.6" rx="2.9250000000000003" ry="1.72" fill="none" stroke="#000" stroke-width="1.3"/>
<ellipse cx="1024.3" cy="169.5" rx="6.5" ry="4.3" fill="#fff" stroke="#000" stroke-width="2.2"/>
<ellipse cx="1024.3" cy="169.5" rx="2.9250000000000003" ry="1.72" fill="none" stroke="#000" stroke-width="1.3"/>
<path d="M997.5 193.5 L1017.5 187 L1019.5 194.5 L999 201.5 Z" fill="#000" stroke="#000" stroke-width="1.5"/>
<line x1="999" y1="195.3" x2="1014" y2="190" stroke="#fff" stroke-width="0.9"/>
<path d="M1014.5 187.8 L1018 186.8 L1019.5 193.8 L1016 195 Z" fill="#fff" stroke="#000" stroke-width="1"/>
<ellipse cx="997.8" cy="197.5" rx="2.4" ry="3.8" fill="#fff" stroke="#000" stroke-width="1.6" transform="rotate(-18 997.8 197.5)"/>
<path d="M1018.1 186.5 L1018.6 193 Q1020 197.5 1025 197.2 Q1030.5 197 1031.6 192 L1031.7 186.5 Z" fill="#fff" stroke="#000" stroke-width="2.2"/>
<ellipse cx="1024.9" cy="186.5" rx="6.8" ry="4.3" fill="#fff" stroke="#000" stroke-width="2.2"/>
<path d="M1021.5 187.5 Q1022 184.5 1025 184.5 Q1028 184.8 1028 187" fill="none" stroke="#000" stroke-width="2"/>
<ellipse cx="1024.3" cy="206.8" rx="6.5" ry="4.3" fill="#fff" stroke="#000" stroke-width="2.2"/>
<ellipse cx="1024.3" cy="206.8" rx="2.9250000000000003" ry="1.72" fill="none" stroke="#000" stroke-width="1.3"/>
<ellipse cx="1024.3" cy="220.5" rx="6.5" ry="4.3" fill="#fff" stroke="#000" stroke-width="2.2"/>
<ellipse cx="1024.3" cy="220.5" rx="2.9250000000000003" ry="1.72" fill="none" stroke="#000" stroke-width="1.3"/>
<path d="M1018.3 234.6 L1018.3 238.6 A6 3.8 0 0 0 1030.3 238.6 L1030.3 234.6 Z" fill="#fff" stroke="#000" stroke-width="2"/>
<ellipse cx="1024.3" cy="234.6" rx="6" ry="3.8" fill="#fff" stroke="#000" stroke-width="2"/>
<ellipse cx="1024.3" cy="234.6" rx="3.0" ry="1.71" fill="none" stroke="#000" stroke-width="1.3"/>
<path d="M1018.3 249.5 L1018.3 253.5 A6 3.8 0 0 0 1030.3 253.5 L1030.3 249.5 Z" fill="#fff" stroke="#000" stroke-width="2"/>
<ellipse cx="1024.3" cy="249.5" rx="6" ry="3.8" fill="#fff" stroke="#000" stroke-width="2"/>
<ellipse cx="1024.3" cy="249.5" rx="3.0" ry="1.71" fill="none" stroke="#000" stroke-width="1.3"/>
<path d="M1021.8 539.9 L1021.8 264 Q1024.5 260 1027.3 264 L1027.3 539.9 Z" fill="#fff" stroke="#000" stroke-width="2"/>
<line x1="1024.5" y1="265" x2="1024.5" y2="330" stroke="#000" stroke-width="3.2" stroke-dasharray="1.6 1"/>
<path d="M1081.2 107.3 L1052.9 107.3 L1030.6 113.7" fill="none" stroke="#000" stroke-width="1.5" stroke-linejoin="round" stroke-linecap="round" />
<path d="M1052.9 107.3 L1026.4 133.2" fill="none" stroke="#000" stroke-width="1.5" stroke-linejoin="round" stroke-linecap="round" />
<path d="M1081.2 134.6 L1048.7 134.6 L1030.6 147.2" fill="none" stroke="#000" stroke-width="1.5" stroke-linejoin="round" stroke-linecap="round" />
<path d="M1081.2 162.0 L1047.3 162.0 L1032.0 169.5" fill="none" stroke="#000" stroke-width="1.5" stroke-linejoin="round" stroke-linecap="round" />
<path d="M1081.2 189.0 L1032.0 189.0" fill="none" stroke="#000" stroke-width="1.5" stroke-linejoin="round" stroke-linecap="round" />
<path d="M1081.2 216.0 L1047.3 216.0 L1030.6 208.5" fill="none" stroke="#000" stroke-width="1.5" stroke-linejoin="round" stroke-linecap="round" />
<path d="M1081.2 242.8 L1048.7 242.8 L1029.2 225.2" fill="none" stroke="#000" stroke-width="1.5" stroke-linejoin="round" stroke-linecap="round" />
<path d="M1081.2 269.9 L1061.3 269.9 L1030.6 239.2" fill="none" stroke="#000" stroke-width="1.5" stroke-linejoin="round" stroke-linecap="round" />
<path d="M1061.3 269.9 L1047.3 269.9 L1030.6 254.5" fill="none" stroke="#000" stroke-width="1.5" stroke-linejoin="round" stroke-linecap="round" />
<path d="M1081.2 297.8 L1027.8 297.8" fill="none" stroke="#000" stroke-width="1.5" stroke-linejoin="round" stroke-linecap="round" />
<path d="M902.3 146.8 L902.3 201.5 L920.4 216.9" fill="none" stroke="#000" stroke-width="1.5" stroke-linejoin="round" stroke-linecap="round" />
<path d="M928.8 146.8 L928.8 201.5 L935.8 209.9" fill="none" stroke="#000" stroke-width="1.5" stroke-linejoin="round" stroke-linecap="round" />
<path d="M956.7 146.8 L956.7 193.2 L952.5 204.3" fill="none" stroke="#000" stroke-width="1.5" stroke-linejoin="round" stroke-linecap="round" />
<path d="M956.7 193.2 L965.0 200.1" fill="none" stroke="#000" stroke-width="1.5" stroke-linejoin="round" stroke-linecap="round" />
<path d="M983.7 146.8 L983.7 191.8" fill="none" stroke="#000" stroke-width="1.5" stroke-linejoin="round" stroke-linecap="round" />
<ellipse cx="923.2" cy="223.3" rx="6" ry="6.3" fill="#fff" stroke="#000" stroke-width="2.6" transform="rotate(-20 923.2 223.3)"/>
<ellipse cx="922" cy="223.8" rx="2.2" ry="2.8" fill="#000" stroke="#000" stroke-width="1"/>
<line x1="926" y1="218" x2="927" y2="229" stroke="#000" stroke-width="1.4"/>
<ellipse cx="937.2" cy="218.8" rx="5" ry="7.3" fill="#fff" stroke="#000" stroke-width="2.2" transform="rotate(-15 937.2 218.8)"/>
<ellipse cx="937.2" cy="218.8" rx="2" ry="3.5" fill="none" stroke="#000" stroke-width="1.5" transform="rotate(-15 937.2 218.8)"/>
<ellipse cx="952" cy="214.1" rx="5" ry="7.3" fill="#fff" stroke="#000" stroke-width="2.2" transform="rotate(-15 952 214.1)"/>
<ellipse cx="952" cy="214.1" rx="2" ry="3.5" fill="none" stroke="#000" stroke-width="1.5" transform="rotate(-15 952 214.1)"/>
<ellipse cx="968.7" cy="207.7" rx="5" ry="7.3" fill="#fff" stroke="#000" stroke-width="2.2" transform="rotate(-15 968.7 207.7)"/>
<ellipse cx="968.7" cy="207.7" rx="2" ry="3.5" fill="none" stroke="#000" stroke-width="1.5" transform="rotate(-15 968.7 207.7)"/>
<ellipse cx="985.4" cy="201.5" rx="6" ry="6.5" fill="#fff" stroke="#000" stroke-width="2.6" transform="rotate(-20 985.4 201.5)"/>
<ellipse cx="984.3" cy="202" rx="2.2" ry="2.8" fill="#000" stroke="#000" stroke-width="1"/>
<line x1="988" y1="196" x2="989" y2="207" stroke="#000" stroke-width="1.4"/>
<line x1="985.3" y1="544.5" x2="1005" y2="551.6" stroke="#000" stroke-width="5.8" stroke-linecap="round"/>
<line x1="985.3" y1="544.5" x2="1005" y2="551.6" stroke="#fff" stroke-width="3.0" stroke-linecap="round"/>
<line x1="997.12" y1="548.76" x2="1004.015" y2="551.245" stroke="#000" stroke-width="3.1999999999999997" stroke-dasharray="1.3 0.9"/>
<ellipse cx="1005" cy="551.6" rx="1.624" ry="2.32" fill="#fff" stroke="#000" stroke-width="1.3" transform="rotate(19.819471529595187 1005 551.6)"/>
<ellipse cx="985.3" cy="544.5" rx="3.84" ry="4.8" fill="#fff" stroke="#000" stroke-width="2.2" transform="rotate(19.819471529595187 985.3 544.5)"/>
<line x1="985.78" y1="539.94" x2="985.78" y2="549.06" stroke="#000" stroke-width="1.3" transform="rotate(19.819471529595187 985.3 544.5)"/>
<line x1="983" y1="559.1" x2="997" y2="564.7" stroke="#000" stroke-width="5.8" stroke-linecap="round"/>
<line x1="983" y1="559.1" x2="997" y2="564.7" stroke="#fff" stroke-width="3.0" stroke-linecap="round"/>
<line x1="991.4" y1="562.46" x2="996.3" y2="564.4200000000001" stroke="#000" stroke-width="3.1999999999999997" stroke-dasharray="1.3 0.9"/>
<ellipse cx="997" cy="564.7" rx="1.624" ry="2.32" fill="#fff" stroke="#000" stroke-width="1.3" transform="rotate(21.801409486351893 997 564.7)"/>
<ellipse cx="983" cy="559.1" rx="3.84" ry="4.8" fill="#fff" stroke="#000" stroke-width="2.2" transform="rotate(21.801409486351893 983 559.1)"/>
<line x1="983.48" y1="554.5400000000001" x2="983.48" y2="563.66" stroke="#000" stroke-width="1.3" transform="rotate(21.801409486351893 983 559.1)"/>
<path d="M1002.2 569.4 Q1000 566 1003 562 L1014.5 546 Q1016.5 543.5 1020 544.2 L1024 545.9 L1032.2 554.4 L1022 583.5 Q1020.5 587 1017 584.5 L1005 573 Q1002.5 571 1002.2 569.4 Z" fill="#fff" stroke="#000" stroke-width="2.4" stroke-linejoin="round" stroke-linecap="round" />
<path d="M1005.9 567.5 L1016.2 547.8" fill="none" stroke="#000" stroke-width="1.4" stroke-linejoin="round" stroke-linecap="round" />
<path d="M1018.6 548.0 L1018.6 583.0" fill="none" stroke="#000" stroke-width="1.5" stroke-linejoin="round" stroke-linecap="round" />
<path d="M1014 556 Q1010 566 1016 574" fill="none" stroke="#000" stroke-width="1.4" stroke-linejoin="round" stroke-linecap="round" />
<path d="M1019 565 Q1023 566 1022 571 Q1021 574 1018.5 573" fill="none" stroke="#000" stroke-width="1.4" stroke-linejoin="round" stroke-linecap="round" />
<ellipse cx="1008" cy="569" rx="2.2" ry="1.6" fill="none" stroke="#000" stroke-width="1.3" transform="rotate(-30 1008 569)"/>
<path d="M1024 553 Q1028 556 1027 563" fill="none" stroke="#000" stroke-width="1.3" stroke-linejoin="round" stroke-linecap="round" />
<path d="M1021.9 576.9 Q1021 573 1024 570 L1036.5 555 Q1039.7 551.5 1043 553.5 L1053 565 Q1056.5 569 1054 573 L1043 591.5 Q1039.7 596 1036 593 L1024 581 Q1022 579 1021.9 576.9 Z" fill="#fff" stroke="#000" stroke-width="2.4" stroke-linejoin="round" stroke-linecap="round" />
<path d="M1026.1 577.8 L1037.8 556.7" fill="none" stroke="#000" stroke-width="1.4" stroke-linejoin="round" stroke-linecap="round" />
<ellipse cx="1043" cy="575.9" rx="6" ry="6.5" fill="#fff" stroke="#000" stroke-width="1.6" transform="rotate(0 1043 575.9)"/>
<ellipse cx="1043.5" cy="576.5" rx="3" ry="3.8" fill="none" stroke="#000" stroke-width="1.8" transform="rotate(0 1043.5 576.5)"/>
<path d="M1040.0 560.0 L1041.0 568.0" fill="none" stroke="#000" stroke-width="1.5" stroke-linejoin="round" stroke-linecap="round" />
<path d="M1044.0 561.0 L1043.0 569.0" fill="none" stroke="#000" stroke-width="1.2" stroke-linejoin="round" stroke-linecap="round" />
<path d="M1038.0 590.0 L1042.0 582.0" fill="none" stroke="#000" stroke-width="1.3" stroke-linejoin="round" stroke-linecap="round" />
<path d="M1044.0 592.0 L1045.0 583.0" fill="none" stroke="#000" stroke-width="1.3" stroke-linejoin="round" stroke-linecap="round" />
<path d="M1030.0 580.0 L1036.0 576.0" fill="none" stroke="#000" stroke-width="1.3" stroke-linejoin="round" stroke-linecap="round" />
<ellipse cx="1029" cy="578" rx="2.2" ry="1.6" fill="none" stroke="#000" stroke-width="1.3" transform="rotate(-30 1029 578)"/>
<ellipse cx="1052" cy="571" rx="2.2" ry="1.6" fill="none" stroke="#000" stroke-width="1.3" transform="rotate(-30 1052 571)"/>
<path d="M1055.0 573.0 L1062.0 575.0" fill="none" stroke="#000" stroke-width="1.2" stroke-linejoin="round" stroke-linecap="round" />
<ellipse cx="1063.5" cy="575.8" rx="2.2" ry="3.8" fill="none" stroke="#000" stroke-width="1.9" transform="rotate(-20 1063.5 575.8)"/>
<ellipse cx="1067.7" cy="577.4" rx="2.2" ry="3.8" fill="none" stroke="#000" stroke-width="1.9" transform="rotate(-20 1067.7 577.4)"/>
<ellipse cx="1071.9" cy="579.0" rx="2.2" ry="3.8" fill="none" stroke="#000" stroke-width="1.9" transform="rotate(-20 1071.9 579.0)"/>
<ellipse cx="1076.1" cy="580.5999999999999" rx="2.2" ry="3.8" fill="none" stroke="#000" stroke-width="1.9" transform="rotate(-20 1076.1 580.5999999999999)"/>
<circle cx="1059.8" cy="590.9" r="5.5" fill="#111" stroke="#000" stroke-width="1.2"/>
<ellipse cx="1057.875" cy="590.35" rx="1.21" ry="2.75" fill="#fff" transform="rotate(20 1059.8 590.9)"/>
<circle cx="1061.45" cy="591.175" r="2.09" fill="none" stroke="#fff" stroke-width="1"/>
<circle cx="1086.1" cy="584.8" r="5.5" fill="#111" stroke="#000" stroke-width="1.2"/>
<ellipse cx="1084.175" cy="584.25" rx="1.21" ry="2.75" fill="#fff" transform="rotate(20 1086.1 584.8)"/>
<circle cx="1087.75" cy="585.0749999999999" r="2.09" fill="none" stroke="#fff" stroke-width="1"/>
<ellipse cx="1026.2" cy="601" rx="5.5" ry="3.5" fill="#fff" stroke="#000" stroke-width="2.2"/>
<ellipse cx="1026.2" cy="601" rx="2.475" ry="1.4000000000000001" fill="none" stroke="#000" stroke-width="1.3"/>
<ellipse cx="1026.2" cy="612.9" rx="6" ry="4" fill="#fff" stroke="#000" stroke-width="2.2"/>
<ellipse cx="1026.2" cy="612.9" rx="2.7" ry="1.6" fill="none" stroke="#000" stroke-width="1.3"/>
<path d="M1023.5 633 L1023.5 622 Q1025.5 619.5 1027.5 622 L1027.5 633" fill="#fff" stroke="#000" stroke-width="1.7"/>
<ellipse cx="1025.5" cy="635.5" rx="4.5" ry="3.5" fill="#fff" stroke="#000" stroke-width="2"/>
<path d="M987.3 511.9 L987.3 540.6" fill="none" stroke="#000" stroke-width="1.5" stroke-linejoin="round" stroke-linecap="round" />
<path d="M960.0 511.9 L960.0 548.0 L980.3 559.4" fill="none" stroke="#000" stroke-width="1.5" stroke-linejoin="round" stroke-linecap="round" />
<path d="M1122.7 534.5 L1065.0 534.5 L1048.5 560.3" fill="none" stroke="#000" stroke-width="1.5" stroke-linejoin="round" stroke-linecap="round" />
<path d="M1122.7 561.2 L1081.8 561.2 L1072.7 574.0" fill="none" stroke="#000" stroke-width="1.5" stroke-linejoin="round" stroke-linecap="round" />
<path d="M1122.7 601.8 L1100.0 601.8 L1089.4 589.0" fill="none" stroke="#000" stroke-width="1.5" stroke-linejoin="round" stroke-linecap="round" />
<path d="M1100.0 601.8 L1068.2 601.8 L1060.6 593.6" fill="none" stroke="#000" stroke-width="1.5" stroke-linejoin="round" stroke-linecap="round" />
<path d="M1122.7 630.0 L1078.8 630.0 L1031.8 604.2" fill="none" stroke="#000" stroke-width="1.5" stroke-linejoin="round" stroke-linecap="round" />
<path d="M1122.7 657.9 L1087.9 657.9 L1031.8 614.8" fill="none" stroke="#000" stroke-width="1.5" stroke-linejoin="round" stroke-linecap="round" />
<path d="M1122.7 685.5 L1106.0 685.5 L1027.3 636.0" fill="none" stroke="#000" stroke-width="1.5" stroke-linejoin="round" stroke-linecap="round" />
<path d="M1122.7 712.7 L1103.0 712.7 L1030.3 658.8 L1007.6 669.4" fill="none" stroke="#000" stroke-width="1.5" stroke-linejoin="round" stroke-linecap="round" />
<line x1="746" y1="609.6" x2="777" y2="622.7" stroke="#000" stroke-width="1.3" stroke-dasharray="14 4 3 4"/>
<line x1="849" y1="654.3" x2="903" y2="677.7" stroke="#000" stroke-width="1.3" stroke-dasharray="14 4 3 4"/>
<line x1="892.8" y1="654.9" x2="918.8" y2="665.9" stroke="#000" stroke-width="1.3" stroke-dasharray="14 4 3 4"/>
<line x1="906.2" y1="634.4" x2="953.5" y2="654" stroke="#000" stroke-width="1.3" stroke-dasharray="14 4 3 4"/>
<line x1="931.4" y1="672.2" x2="972.4" y2="688.8" stroke="#000" stroke-width="1.3" stroke-dasharray="14 4 3 4"/>
<line x1="966.1" y1="660.4" x2="981.9" y2="665.9" stroke="#000" stroke-width="1.3" stroke-dasharray="14 4 3 4"/>
<path d="M786.9 618.9 L824.5 600.9 L854.0 614.0 L814.2 632.0 L805.4 633.6" fill="none" stroke="#000" stroke-width="2" stroke-linejoin="round" stroke-linecap="round" />
<path d="M814.2 632.0 L850.0 617.0 L820.0 636.0" fill="none" stroke="#000" stroke-width="1.3" stroke-linejoin="round" stroke-linecap="round" />
<path d="M781.4 621 L827 641.5 Q831 645 827.2 649 Q825 650.5 822 649.2 L778.2 629.3 Q775 627 777.6 623 Q779 620.5 781.4 621 Z" fill="#fff" stroke="#000" stroke-width="2.2"/>
<ellipse cx="825" cy="645.5" rx="2.5" ry="3.5" fill="none" stroke="#000" stroke-width="1.3" transform="rotate(-20 825 645.5)"/>
<path d="M785.8 619.0 L785.5 627.5" fill="none" stroke="#000" stroke-width="1.5" stroke-linejoin="round" stroke-linecap="round" />
<ellipse cx="839.5" cy="650.5" rx="4.5" ry="6" fill="#fff" stroke="#000" stroke-width="1.8" transform="rotate(0 839.5 650.5)"/>
<ellipse cx="842.5" cy="652.2" rx="6.5" ry="8" fill="#fff" stroke="#000" stroke-width="2" transform="rotate(0 842.5 652.2)"/>
<ellipse cx="843" cy="652.5" rx="3" ry="3.8" fill="none" stroke="#000" stroke-width="1.4" transform="rotate(0 843 652.5)"/>
<path d="M861.3 659.6 L892.8 639.9 L892 633.6 L903 627.3 Q907 622 907 619.4 L907.8 597.3 Q910 591 913.3 591.8 Q918 593 918 595 Q920 605 919.6 613.1 Q918 622 915.7 627.3 L907.8 636.7 L896 643 L895.2 651.7 L863.6 673 Q859 672 859.7 665.1 Z" fill="none" stroke="#000" stroke-width="2.2" stroke-linejoin="round" stroke-linecap="round" />
<path d="M892.0 640.0 L896.0 651.7" fill="none" stroke="#000" stroke-width="1.5" stroke-linejoin="round" stroke-linecap="round" />
<path d="M916 597 L922 600 Q923.5 603 921 604.5 L915 602 Z" fill="#fff" stroke="#000" stroke-width="1.7"/>
<rect x="864" y="660.5" width="5" height="3.5" fill="none" stroke="#000" stroke-width="1.4" transform="rotate(-25 866 662)"/>
<ellipse cx="886" cy="652" rx="2.2" ry="1.6" fill="none" stroke="#000" stroke-width="1.3" transform="rotate(-30 886 652)"/>
<ellipse cx="903" cy="633" rx="2.2" ry="1.6" fill="none" stroke="#000" stroke-width="1.3" transform="rotate(-30 903 633)"/>
<path d="M923 638 L942 646 Q945 649 943 652 L921 644.5 Q919 641 923 638 Z" fill="#fff" stroke="#000" stroke-width="2"/>
<ellipse cx="942.3" cy="649" rx="2.6" ry="3.5" fill="#fff" stroke="#000" stroke-width="1.6" transform="rotate(-20 942.3 649)"/>
<path d="M933.0 511.9 L933.0 638.3" fill="none" stroke="#000" stroke-width="1.5" stroke-linejoin="round" stroke-linecap="round" />
<path d="M905.4 677.7 L937 660.4 L950.3 658 L963 651.7 L967.7 643 L970.8 621 Q972 616.3 975.6 616.3 Q980 616 980.3 619.4 Q982 630 981.1 643 L976.4 655.7 L970.8 662 L953.5 674.6 L940.9 673 L907.8 691.9 Q903 691 903.8 685.6 Z" fill="none" stroke="#000" stroke-width="2.2" stroke-linejoin="round" stroke-linecap="round" />
<path d="M937.0 663.5 L938.5 673.0" fill="none" stroke="#000" stroke-width="1.4" stroke-linejoin="round" stroke-linecap="round" />
<path d="M948.8 663.5 L949.6 672.2" fill="none" stroke="#000" stroke-width="1.4" stroke-linejoin="round" stroke-linecap="round" />
<ellipse cx="968" cy="620.5" rx="2.5" ry="3" fill="#fff" stroke="#000" stroke-width="1.5" transform="rotate(0 968 620.5)"/>
<ellipse cx="912" cy="683" rx="2.2" ry="1.6" fill="none" stroke="#000" stroke-width="1.3" transform="rotate(-30 912 683)"/>
<ellipse cx="929" cy="671" rx="2.2" ry="1.6" fill="none" stroke="#000" stroke-width="1.3" transform="rotate(-30 929 671)"/>
<ellipse cx="965" cy="659" rx="2.2" ry="1.6" fill="none" stroke="#000" stroke-width="1.3" transform="rotate(-30 965 659)"/>
<ellipse cx="933.8" cy="691.1" rx="6.5" ry="7" fill="#fff" stroke="#000" stroke-width="2.2" transform="rotate(-15 933.8 691.1)"/>
<ellipse cx="933.5" cy="691.5" rx="2.2" ry="1.6" fill="none" stroke="#000" stroke-width="1.3" transform="rotate(-30 933.5 691.5)"/>
<ellipse cx="948" cy="697.4" rx="4.5" ry="6" fill="#fff" stroke="#000" stroke-width="1.7" transform="rotate(-15 948 697.4)"/>
<ellipse cx="948" cy="697.4" rx="3.15" ry="4.4399999999999995" fill="none" stroke="#000" stroke-width="0.6" opacity="0.6" transform="rotate(-15 948 697.4)"/>
<ellipse cx="948" cy="697.4" rx="1.485" ry="2.52" fill="#fff" stroke="#000" stroke-width="1.5" transform="rotate(-15 948 697.4)"/>
<line x1="969" y1="706.1" x2="955.9" y2="701.4" stroke="#000" stroke-width="5.5" stroke-linecap="round"/>
<line x1="969" y1="706.1" x2="955.9" y2="701.4" stroke="#fff" stroke-width="2.7" stroke-linecap="round"/>
<line x1="955.9" y1="701.4" x2="956.555" y2="701.635" stroke="#000" stroke-width="2.9" stroke-dasharray="1.3 0.9"/>
<ellipse cx="955.9" cy="701.4" rx="1.54" ry="2.2" fill="#fff" stroke="#000" stroke-width="1.3" transform="rotate(-160.26309850449897 955.9 701.4)"/>
<ellipse cx="969" cy="706.1" rx="3.6" ry="4.5" fill="#fff" stroke="#000" stroke-width="2.2" transform="rotate(-160.26309850449897 969 706.1)"/>
<line x1="969.45" y1="701.825" x2="969.45" y2="710.375" stroke="#000" stroke-width="1.3" transform="rotate(-160.26309850449897 969 706.1)"/>
<line x1="974.1" y1="689.4" x2="989.4" y2="695.8" stroke="#000" stroke-width="5.8" stroke-linecap="round"/>
<line x1="974.1" y1="689.4" x2="989.4" y2="695.8" stroke="#fff" stroke-width="3.0" stroke-linecap="round"/>
<line x1="983.28" y1="693.24" x2="988.635" y2="695.4799999999999" stroke="#000" stroke-width="3.1999999999999997" stroke-dasharray="1.3 0.9"/>
<ellipse cx="989.4" cy="695.8" rx="1.624" ry="2.32" fill="#fff" stroke="#000" stroke-width="1.3" transform="rotate(22.69959000722623 989.4 695.8)"/>
<ellipse cx="974.1" cy="689.4" rx="3.6799999999999997" ry="4.6" fill="#fff" stroke="#000" stroke-width="2.2" transform="rotate(22.69959000722623 974.1 689.4)"/>
<line x1="974.5600000000001" y1="685.03" x2="974.5600000000001" y2="693.77" stroke="#000" stroke-width="1.3" transform="rotate(22.69959000722623 974.1 689.4)"/>
<ellipse cx="997" cy="699.6" rx="4.8" ry="6.3" fill="#fff" stroke="#000" stroke-width="1.7" transform="rotate(-15 997 699.6)"/>
<ellipse cx="997" cy="699.6" rx="3.36" ry="4.662" fill="none" stroke="#000" stroke-width="0.6" opacity="0.6" transform="rotate(-15 997 699.6)"/>
<ellipse cx="997" cy="699.6" rx="1.584" ry="2.646" fill="#fff" stroke="#000" stroke-width="1.5" transform="rotate(-15 997 699.6)"/>
<ellipse cx="1008.5" cy="703.4" rx="4.8" ry="6.3" fill="#fff" stroke="#000" stroke-width="1.7" transform="rotate(-15 1008.5 703.4)"/>
<ellipse cx="1008.5" cy="703.4" rx="3.36" ry="4.662" fill="none" stroke="#000" stroke-width="0.6" opacity="0.6" transform="rotate(-15 1008.5 703.4)"/>
<ellipse cx="1008.5" cy="703.4" rx="1.584" ry="2.646" fill="#fff" stroke="#000" stroke-width="1.5" transform="rotate(-15 1008.5 703.4)"/>
<circle cx="1019.9" cy="707.2" r="5.2" fill="#111" stroke="#000" stroke-width="1.2"/>
<ellipse cx="1018.0799999999999" cy="706.6800000000001" rx="1.1440000000000001" ry="2.6" fill="#fff" transform="rotate(20 1019.9 707.2)"/>
<circle cx="1021.4599999999999" cy="707.46" r="1.9760000000000002" fill="none" stroke="#fff" stroke-width="1"/>
<line x1="985.5" y1="667" x2="1011" y2="677.2" stroke="#000" stroke-width="6.2" stroke-linecap="round"/>
<line x1="985.5" y1="667" x2="1011" y2="677.2" stroke="#fff" stroke-width="3.4000000000000004" stroke-linecap="round"/>
<line x1="1000.8" y1="673.12" x2="1009.725" y2="676.69" stroke="#000" stroke-width="3.6" stroke-dasharray="1.3 0.9"/>
<ellipse cx="1011" cy="677.2" rx="1.7360000000000002" ry="2.4800000000000004" fill="#fff" stroke="#000" stroke-width="1.3" transform="rotate(21.8014094863519 1011 677.2)"/>
<ellipse cx="985.5" cy="667" rx="4.0" ry="5" fill="#fff" stroke="#000" stroke-width="2.2" transform="rotate(21.8014094863519 985.5 667)"/>
<line x1="986.0" y1="662.25" x2="986.0" y2="671.75" stroke="#000" stroke-width="1.3" transform="rotate(21.8014094863519 985.5 667)"/>
<ellipse cx="1021.2" cy="683" rx="4.8" ry="6.5" fill="#fff" stroke="#000" stroke-width="1.7" transform="rotate(-15 1021.2 683)"/>
<ellipse cx="1021.2" cy="683" rx="3.36" ry="4.81" fill="none" stroke="#000" stroke-width="0.6" opacity="0.6" transform="rotate(-15 1021.2 683)"/>
<ellipse cx="1021.2" cy="683" rx="1.584" ry="2.73" fill="#fff" stroke="#000" stroke-width="1.5" transform="rotate(-15 1021.2 683)"/>
<circle cx="1032.6" cy="686.9" r="5.2" fill="#111" stroke="#000" stroke-width="1.2"/>
<ellipse cx="1030.78" cy="686.38" rx="1.1440000000000001" ry="2.6" fill="#fff" transform="rotate(20 1032.6 686.9)"/>
<circle cx="1034.1599999999999" cy="687.16" r="1.9760000000000002" fill="none" stroke="#fff" stroke-width="1"/>
<path d="M810.9 646.7 L810.9 749.9" fill="none" stroke="#000" stroke-width="1.5" stroke-linejoin="round" stroke-linecap="round" />
<path d="M838.1 660.9 L838.1 749.9" fill="none" stroke="#000" stroke-width="1.5" stroke-linejoin="round" stroke-linecap="round" />
<path d="M864.4 674.6 L864.4 749.9" fill="none" stroke="#000" stroke-width="1.5" stroke-linejoin="round" stroke-linecap="round" />
<path d="M905.4 693.2 L892.7 714.9 L892.2 749.9" fill="none" stroke="#000" stroke-width="1.5" stroke-linejoin="round" stroke-linecap="round" />
<path d="M928.3 699.6 L919.6 717.4 L919.6 749.9" fill="none" stroke="#000" stroke-width="1.5" stroke-linejoin="round" stroke-linecap="round" />
<path d="M946.6 705.0 L946.6 749.9" fill="none" stroke="#000" stroke-width="1.5" stroke-linejoin="round" stroke-linecap="round" />
<path d="M970.3 711.0 L973.6 722.5 L973.6 749.9" fill="none" stroke="#000" stroke-width="1.5" stroke-linejoin="round" stroke-linecap="round" />
<path d="M984.3 698.3 L1000.8 727.6 L1000.8 749.9" fill="none" stroke="#000" stroke-width="1.5" stroke-linejoin="round" stroke-linecap="round" />
</svg>
</body></html>
